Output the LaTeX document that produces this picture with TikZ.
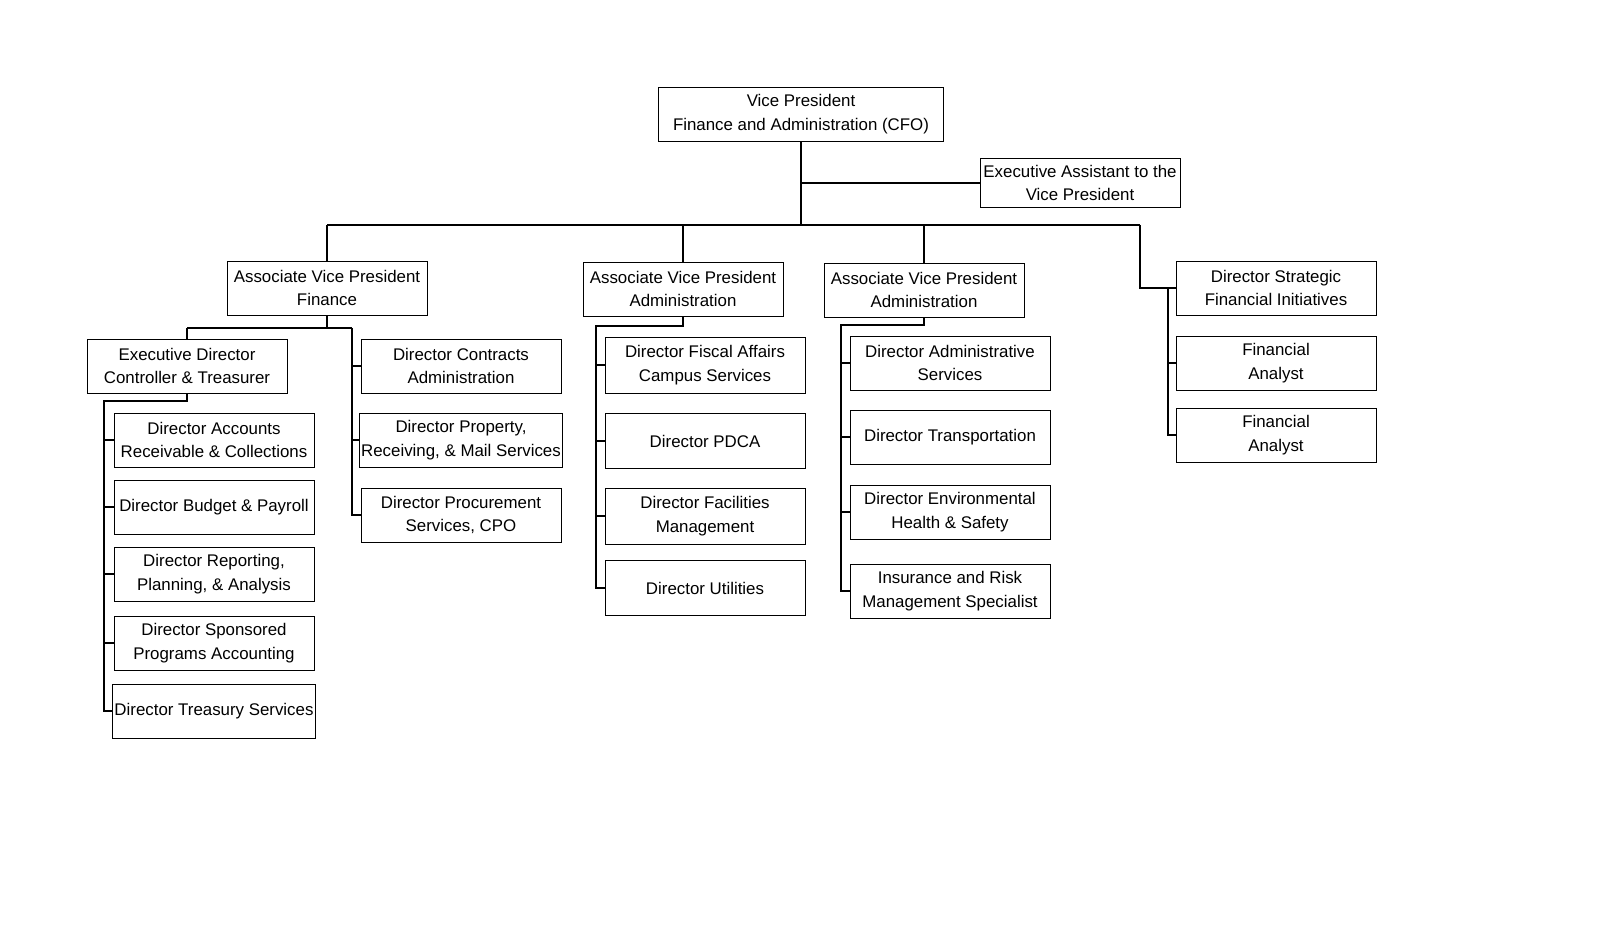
\documentclass[tikz,border=0pt]{standalone}
\usepackage{fontspec}
\setmainfont{Liberation Sans}
\usetikzlibrary{positioning}

\begin{document}
\begin{tikzpicture}[x=0.02cm, y=-0.02cm,
    post/.style={draw, line width=0.5pt, minimum width=4cm, minimum height=1.08cm, inner sep=1pt, align=center, font=\fontsize{9.6}{13.6}\selectfont},
    link/.style={line width=1.2pt}
]
    \useasboundingbox (0,0) rectangle (1600,942);

    % Top
    \node[post, minimum width=5.7cm] (vp) at (801,114) {Vice President\\Finance and Administration (CFO)};
    \node[post, minimum height=0.98cm] (ea) at (1080,183) {Executive Assistant to the\\Vice President};

    % Second level
    \node[post] (avpf) at (327,288) {Associate Vice President\\Finance};
    \node[post] (avpa) at (683,289) {Associate Vice President\\Administration};
    \node[post] (avpb) at (924,290) {Associate Vice President\\Administration};
    \node[post] (dsfi) at (1276,288) {Director Strategic\\Financial Initiatives};
    \node[post] (fa1) at (1276,363) {Financial\\Analyst};
    \node[post] (fa2) at (1276,435) {Financial\\Analyst};

    % Finance
    \node[post] (edct) at (187,366) {Executive Director\\Controller \& Treasurer};
    \node[post] (dca) at (461,366) {Director Contracts\\Administration};
    \node[post] (dprm) at (461,440) {Director Property,\\Receiving, \& Mail Services};
    \node[post] (dps) at (461,515) {Director Procurement\\Services, CPO};
    \node[post] (darc) at (214,440) {Director Accounts\\Receivable \& Collections};
    \node[post] (dbp) at (214,507) {Director Budget \& Payroll};
    \node[post] (drpa) at (214,574) {Director Reporting,\\Planning, \& Analysis};
    \node[post] (dspa) at (214,643) {Director Sponsored\\Programs Accounting};
    \node[post] (dts) at (214,711) {Director Treasury Services};

    % Administration
    \node[post, minimum height=1.12cm] (dfa) at (705,365) {Director Fiscal Affairs\\Campus Services};
    \node[post, minimum height=1.1cm] (dpdca) at (705,441) {Director PDCA};
    \node[post, minimum height=1.12cm] (dfm) at (705,516) {Director Facilities\\Management};
    \node[post, minimum height=1.1cm] (du) at (705,588) {Director Utilities};
    \node[post] (das) at (950,363) {Director Administrative\\Services};
    \node[post] (dtr) at (950,437) {Director Transportation};
    \node[post] (dehs) at (950,512) {Director Environmental\\Health \& Safety};
    \node[post] (irms) at (950,591) {Insurance and Risk\\Management Specialist};

    % Bends
    \coordinate (bus) at (801,225);
    \coordinate (busl) at (327,225);
    \coordinate (busr) at (1140,225);
    \coordinate (fbus) at (187,328);
    \coordinate (fbusr) at (352,328);
    \coordinate (ebus) at (104,401);
    \coordinate (abus) at (596,326);
    \coordinate (bbus) at (841,325);
    \coordinate (sbus) at (1168,288);

    % Connectors
    \draw[link] (vp) -- (bus);
    \draw[link] (vp |- ea) -- (ea);
    \draw[link] (busl) -- (busr);
    \draw[link] (busl) -- (avpf);
    \draw[link] (avpa |- bus) -- (avpa);
    \draw[link] (avpb |- bus) -- (avpb);
    \draw[link] (busr) |- (dsfi);
    \draw[link] (sbus) |- (fa2);
    \draw[link] (sbus |- fa1) -- (fa1);

    \draw[link] (avpf) -- (avpf |- fbus);
    \draw[link] (fbus) -- (fbusr);
    \draw[link] (fbus) -- (edct);
    \draw[link] (fbusr) |- (dps);
    \foreach \n in {dca,dprm} \draw[link] (fbusr |- \n) -- (\n);
    \draw[link] (edct) -- (edct |- ebus) -- (ebus) |- (dts);
    \foreach \n in {darc,dbp,drpa,dspa} \draw[link] (ebus |- \n) -- (\n);

    \draw[link] (avpa) -- (avpa |- abus) -- (abus) |- (du);
    \foreach \n in {dfa,dpdca,dfm} \draw[link] (abus |- \n) -- (\n);
    \draw[link] (avpb) -- (avpb |- bbus) -- (bbus) |- (irms);
    \foreach \n in {das,dtr,dehs} \draw[link] (bbus |- \n) -- (\n);
\end{tikzpicture}
\end{document}
